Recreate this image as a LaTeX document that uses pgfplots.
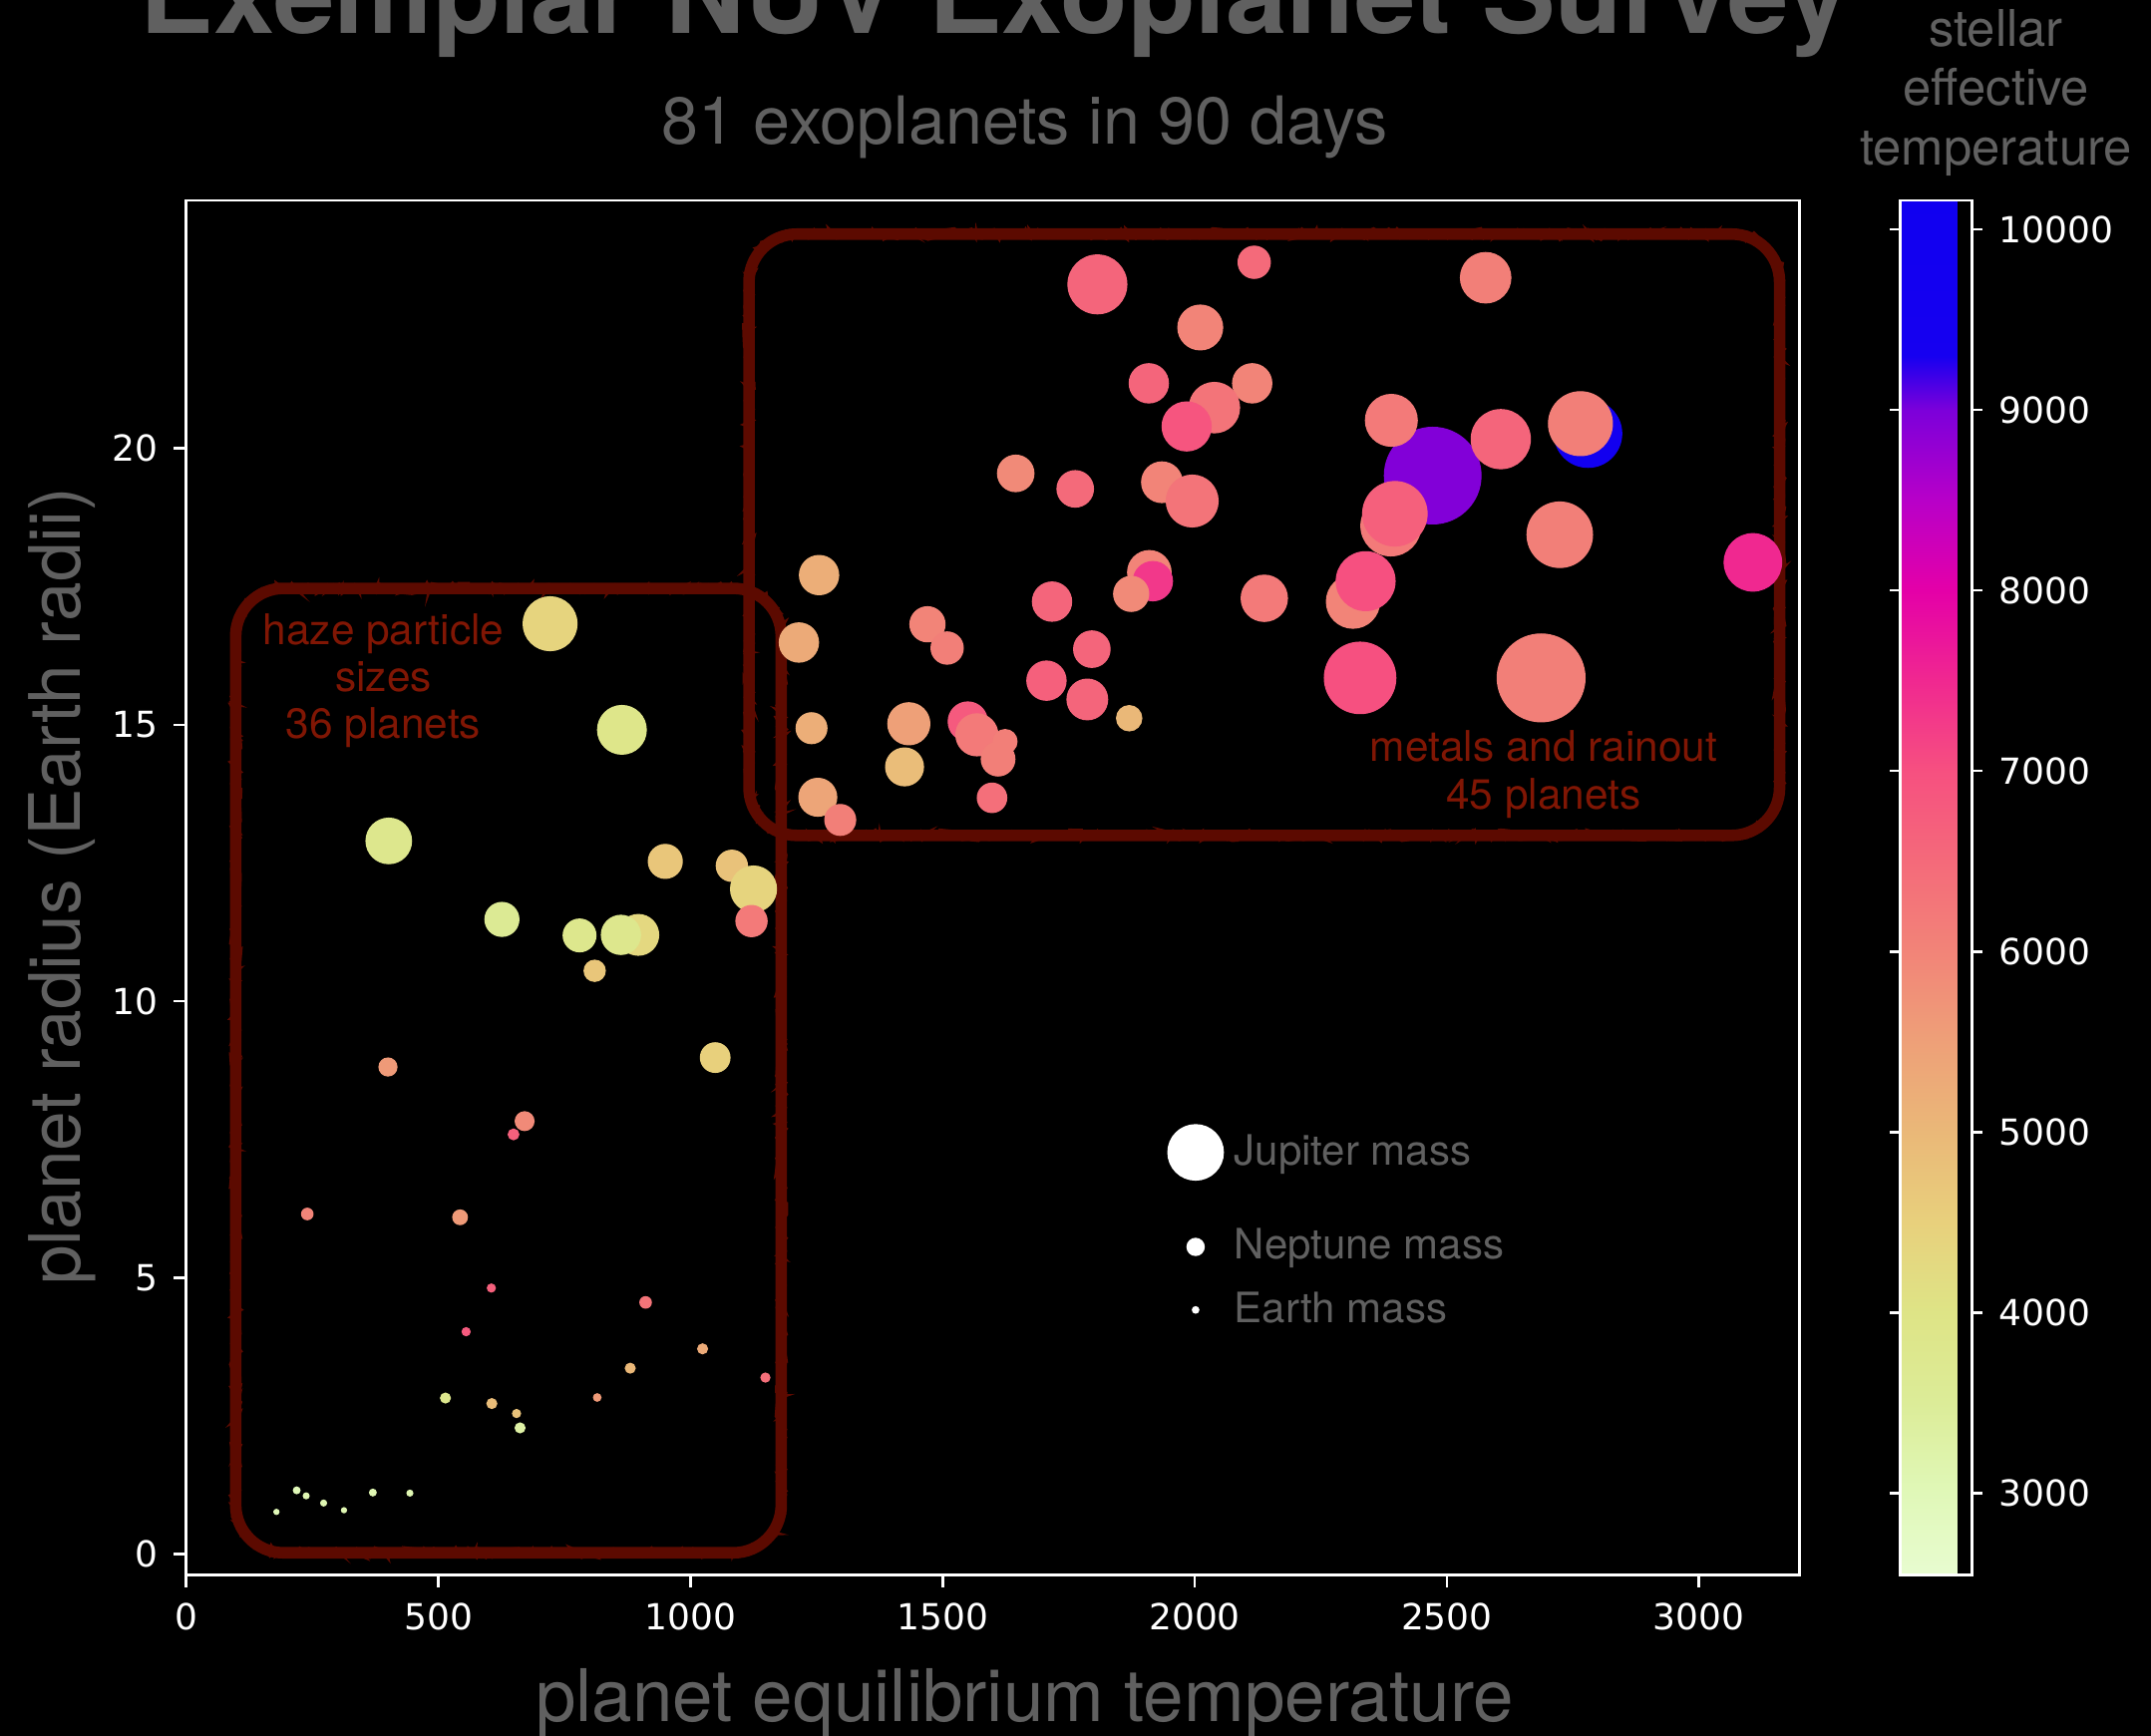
\documentclass[border=0pt]{standalone}
\usepackage{fontspec}
\setmainfont{TeX Gyre Heros}
\newfontfamily\dejavu{DejaVu Sans}
\usepackage{pgfplots}
\usepackage{pgfplotstable}
\pgfplotsset{compat=1.18}
\usetikzlibrary{calc,decorations.pathmorphing}
\definecolor{txtgray}{RGB}{96,96,96}
\definecolor{boxred}{RGB}{92,10,0}
\definecolor{annred}{RGB}{128,22,4}

\pgfplotsset{colormap={exo}{
 rgb255(2.547cm)=(232,252,208)
 rgb255(3.0cm)=(224,248,184)
 rgb255(3.5cm)=(220,236,152)
 rgb255(4.0cm)=(222,228,134)
 rgb255(4.5cm)=(232,208,124)
 rgb255(5.0cm)=(234,184,120)
 rgb255(5.5cm)=(238,160,120)
 rgb255(6.0cm)=(242,132,120)
 rgb255(6.5cm)=(244,106,122)
 rgb255(7.0cm)=(246,80,128)
 rgb255(7.5cm)=(240,40,144)
 rgb255(8.0cm)=(228,0,168)
 rgb255(8.5cm)=(184,0,200)
 rgb255(9.0cm)=(124,0,218)
 rgb255(9.3cm)=(22,0,240)
 rgb255(10.16cm)=(16,0,240)
}}

\pgfplotstableread{
x y r t
721.5 16.83 6.75 4400
864 14.91 6.1 3900
401.6 12.90 5.7 3800
950 12.53 4.25 4700
1082 12.45 3.9 4800
1125 12.03 5.75 4400
1121 11.45 3.9 6200
626 11.48 4.25 3600
780 11.19 4.1 3800
896.5 11.20 5.1 4300
862 11.20 4.9 3800
810 10.55 2.65 4700
1049 8.98 3.7 4500
400 8.81 2.25 5600
671 7.83 2.35 5900
649 7.59 1.33 6700
240 6.15 1.43 6000
543 6.09 1.83 5600
605 4.81 1.0 6700
911 4.55 1.43 6300
555 4.02 1.0 6800
1024 3.71 1.23 5300
880.5 3.36 1.23 5000
1148.6 3.19 1.13 6400
514 2.82 1.23 3800
815 2.83 0.93 5600
606 2.72 1.23 4900
655 2.54 1.0 4800
662 2.28 1.23 3300
219 1.15 0.83 3000
370 1.11 0.83 3100
443.5 1.10 0.73 3100
237.8 1.05 0.73 3100
272.4 0.92 0.73 3100
312.8 0.79 0.63 3100
178.8 0.76 0.63 3000
2780 20.27 8.45 9900
2765 20.45 8.0 6100
2472 19.51 12.1 8950
2390 20.51 6.49 6200
2607 20.17 7.4 6600
2389 18.60 7.5 6200
2397 18.82 8.07 6700
1807 22.97 7.37 6600
2118 23.37 4.03 6500
2577 23.09 6.31 6100
2011 22.19 5.61 6000
1909 21.18 4.91 6600
2114 21.18 4.91 6000
2039 20.74 6.31 6300
1984 20.40 6.14 6900
1645 19.55 4.56 5900
1763 19.27 4.56 6500
1935 19.39 5.09 6000
1995 19.05 6.49 6300
2724 18.44 8.2 6100
3107 17.94 7.19 7500
1255 17.71 4.91 5200
1910 17.76 5.44 6000
1917 17.60 4.91 7300
1874 17.37 4.39 5900
1717 17.23 4.91 6600
2138 17.29 5.79 6200
2314 17.23 6.67 6000
2339 17.60 7.37 7000
1470 16.82 4.39 6000
1509 16.39 4.03 6100
1215 16.49 4.91 5300
1796 16.37 4.56 6600
1706 15.80 4.91 6700
1787 15.46 5.09 6600
1870 15.12 3.16 5000
2328 15.85 8.95 7000
2687 15.85 11.0 6100
1240 14.94 3.86 5200
1433 15.02 5.26 5500
1550 15.06 4.91 6800
1568 14.82 5.26 6200
1624 14.70 2.98 6100
1610 14.38 4.21 6100
1424.5 14.24 4.74 4900
1598 13.68 3.68 6400
1252.5 13.69 4.74 5400
1297 13.28 3.86 6100
}\planets

\newcommand{\rbox}[3]{%
  \draw[#1] let \p1=(#2), \p2=(#3) in
    (\x1+12pt,\y1) -- (\x2-12pt,\y1) arc[start angle=-90,end angle=0,radius=12pt]
    -- (\x2,\y2-12pt) arc[start angle=0,end angle=90,radius=12pt]
    -- (\x1+12pt,\y2) arc[start angle=90,end angle=180,radius=12pt]
    -- (\x1,\y1+12pt) arc[start angle=180,end angle=270,radius=12pt] -- cycle;
}
\newcommand{\roughbox}[2]{%
  \rbox{boxred, line width=2.9pt}{#1}{#2}
  \rbox{boxred, line width=0.9pt, decorate, decoration={random steps, segment length=1.4pt, amplitude=1.0pt}}{#1}{#2}
  \rbox{boxred, line width=0.7pt, decorate, decoration={random steps, segment length=1.1pt, amplitude=1.4pt}}{#1}{#2}
}

\begin{document}
\begin{tikzpicture}
\pgfmathsetseed{7}
\fill[black] (-1pt,-1pt) rectangle (540.25pt,436.25pt);

\begin{axis}[
  at={(46.7pt,40.4pt)}, anchor=south west,
  scale only axis, width=404.5pt, height=344.6pt,
  xmin=0, xmax=3200, ymin=-0.379, ymax=24.49,
  xtick={0,500,...,3000}, ytick={0,5,...,20},
  tick pos=left, tick align=outside, major tick length=3.1pt,
  tick style={white, line width=0.67pt},
  axis line style={white, line width=0.67pt},
  tick label style={font=\dejavu\fontsize{9}{10}\selectfont, text=white, inner sep=3.7pt},
  /pgf/number format/assume math mode=true,
  /pgf/number format/1000 sep={},
  scaled ticks=false,
  colorbar, colormap name=exo, point meta min=2547, point meta max=10160,
  colorbar style={
    at={(parent axis.north east)}, anchor=north west, xshift=16.7pt,
    width=17.9pt,
    ytick={3000,4000,...,10000},
    tick align=outside, major tick length=2.7pt,
    tick style={white, line width=0.67pt},
    axis line style={white, line width=0.67pt},
    yticklabel style={font=\dejavu\fontsize{9}{10}\selectfont, text=white, inner sep=3.9pt},
    /pgf/number format/assume math mode=true,
    /pgf/number format/1000 sep={},
    scaled y ticks=false,
  },
  legend style={at={(0.608,0.3297)}, anchor=north west, draw=none, fill=none,
    inner sep=0pt, outer sep=0pt, font=\fontsize{10.5}{12}\selectfont, text=txtgray,
    /tikz/column sep=0pt, /tikz/row sep=0pt, nodes={inner sep=2.6pt}},
  legend cell align=left,
]
\roughbox{axis cs:98,0.02}{axis cs:1180,17.47}
\roughbox{axis cs:1116,13.0}{axis cs:3160,23.88}

\addplot[scatter, only marks, mark=*, scatter src=explicit, forget plot,
  scatter/use mapped color={draw=mapped color, fill=mapped color},
  visualization depends on={\thisrow{r} \as \perpointmarksize},
  scatter/@pre marker code/.append style={/tikz/mark size=\perpointmarksize},
  mark options={line width=0.3pt}]
  table[x=x, y=y, meta=t] {\planets};

\node[anchor=base, text=annred, font=\fontsize{10.6}{12}\selectfont] at (axis cs:391,16.45) {haze particle};
\node[anchor=base, text=annred, font=\fontsize{10.6}{12}\selectfont] at (axis cs:391,15.61) {sizes};
\node[anchor=base, text=annred, font=\fontsize{10.6}{12}\selectfont] at (axis cs:391,14.76) {36 planets};
\node[anchor=base, text=annred, font=\fontsize{10.6}{12}\selectfont] at (axis cs:2692,14.34) {metals and rainout};
\node[anchor=base, text=annred, font=\fontsize{10.6}{12}\selectfont] at (axis cs:2692,13.47) {45 planets};

\addlegendimage{legend image code/.code={\path (-6.9pt,-15.6pt) rectangle (6.9pt,7.5pt); \fill[white] (0pt,0pt) circle[radius=6.9pt];}}
\addlegendentry{Jupiter mass}
\addlegendimage{legend image code/.code={\path (-6.9pt,-7.7pt) rectangle (6.9pt,7.7pt); \fill[white] (0pt,0pt) circle[radius=2.1pt];}}
\addlegendentry{Neptune mass}
\addlegendimage{legend image code/.code={\path (-6.9pt,-7.7pt) rectangle (6.9pt,7.7pt); \fill[white] (0pt,0pt) circle[radius=0.75pt];}}
\addlegendentry{Earth mass}
\end{axis}

\node[anchor=base, text=txtgray, font=\bfseries\fontsize{27.6}{30}\selectfont] at (249.3pt,426.9pt) {Exemplar NUV Exoplanet Survey};
\node[anchor=base, text=txtgray, font=\fontsize{16.6}{19}\selectfont] at (256.9pt,399.2pt) {81 exoplanets in 90 days};
\node[anchor=base, text=txtgray, font=\fontsize{18.2}{21}\selectfont] at (256.9pt,3.6pt) {planet equilibrium temperature};
\node[anchor=base, rotate=90, text=txtgray, font=\fontsize{17.8}{21}\selectfont] at (20.2pt,213pt) {planet radius (Earth radii)};
\node[anchor=base, text=txtgray, font=\fontsize{12.7}{15}\selectfont] at (500.4pt,423.5pt) {stellar};
\node[anchor=base, text=txtgray, font=\fontsize{12.7}{15}\selectfont] at (500.4pt,408.75pt) {effective};
\node[anchor=base, text=txtgray, font=\fontsize{12.7}{15}\selectfont] at (500.4pt,393.75pt) {temperature};

\pgfresetboundingbox
\useasboundingbox (0,0) rectangle (539.25pt,435.25pt);
\end{tikzpicture}
\end{document}
